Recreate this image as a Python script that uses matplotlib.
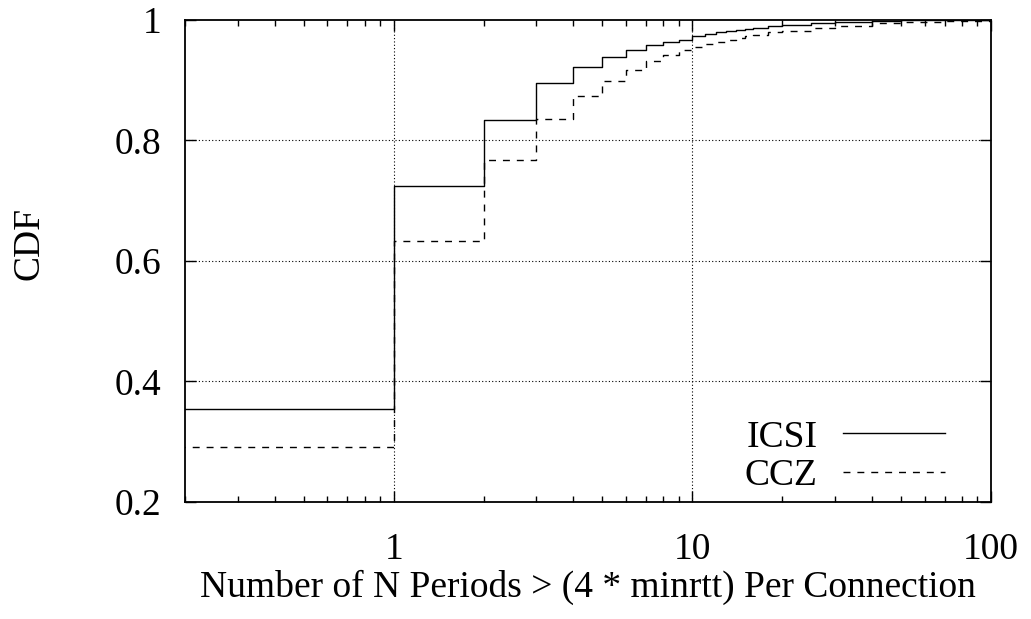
import matplotlib.pyplot as plt
import matplotlib.ticker as ticker
import numpy as np

plt.rcParams['font.family'] = ['Liberation Serif', 'DejaVu Serif']

# number of long periods per connection (0 drawn off to the left edge)
periods = [0.1, 1, 2, 3, 4, 5, 6, 7, 8, 9, 10, 11, 12, 13, 14, 15, 16, 18, 20,
           25, 30, 40, 50, 70, 100]
icsi_cdf = [0.354, 0.724, 0.834, 0.895, 0.922, 0.939, 0.950, 0.959, 0.963, 0.967,
            0.973, 0.976, 0.979, 0.981, 0.983, 0.985, 0.987, 0.989, 0.991,
            0.994, 0.996, 0.998, 0.999, 0.9995, 1.0]
ccz_cdf = [0.292, 0.633, 0.768, 0.835, 0.873, 0.899, 0.916, 0.931, 0.941, 0.950,
           0.955, 0.960, 0.964, 0.967, 0.970, 0.973, 0.975, 0.979, 0.982,
           0.987, 0.990, 0.994, 0.996, 0.998, 1.0]

fs = 27

fig = plt.figure(figsize=(10.31, 6.19), dpi=100)
ax = fig.add_axes([0.1794, 0.189, 0.7816, 0.779])

ax.step(periods, icsi_cdf, where='post', color='black', lw=1.0, label='ICSI')
ax.step(periods, ccz_cdf, where='post', color='black', lw=1.0,
        dashes=(5, 5), label='CCZ')

ax.set_xscale('log')
ax.set_xlim(0.2, 100)
ax.set_ylim(0.2, 1.0)

ax.set_xticks([1, 10, 100])
ax.xaxis.set_major_formatter(ticker.FixedFormatter(['1', '10', '100']))
ax.xaxis.set_minor_locator(ticker.LogLocator(base=10, subs=np.arange(2, 10)))
ax.xaxis.set_minor_formatter(ticker.NullFormatter())
ax.set_yticks([0.2, 0.4, 0.6, 0.8, 1.0])
ax.set_yticklabels(['0.2', '0.4', '0.6', '0.8', '1'])

ax.tick_params(which='both', direction='in', top=True, right=True, labelsize=fs,
               width=1.0, color='black')
ax.tick_params(which='major', length=8)
ax.tick_params(which='minor', length=4)
ax.tick_params(axis='x', which='major', pad=22)
ax.tick_params(axis='y', which='major', pad=17)

for x in [1, 10]:
    ax.axvline(x, color='black', lw=0.8, ls=(0, (1, 2)), zorder=0)
for y in [0.4, 0.6, 0.8]:
    ax.axhline(y, color='black', lw=0.8, ls=(0, (1, 2)), zorder=0)

for s in ax.spines.values():
    s.set_linewidth(1.3)

ax.set_xlabel('Number of N Periods > (4 * minrtt) Per Connection', fontsize=fs,
              labelpad=2)
ax.set_ylabel('CDF', fontsize=fs)
ax.yaxis.set_label_coords(-0.172, 0.537)

ax.legend(loc='lower right', bbox_to_anchor=(0.985, -0.051), frameon=False,
          markerfirst=False, fontsize=fs, handlelength=2.72, labelspacing=0.1,
          handletextpad=0.67)

fig.savefig('out.png', dpi=100)
